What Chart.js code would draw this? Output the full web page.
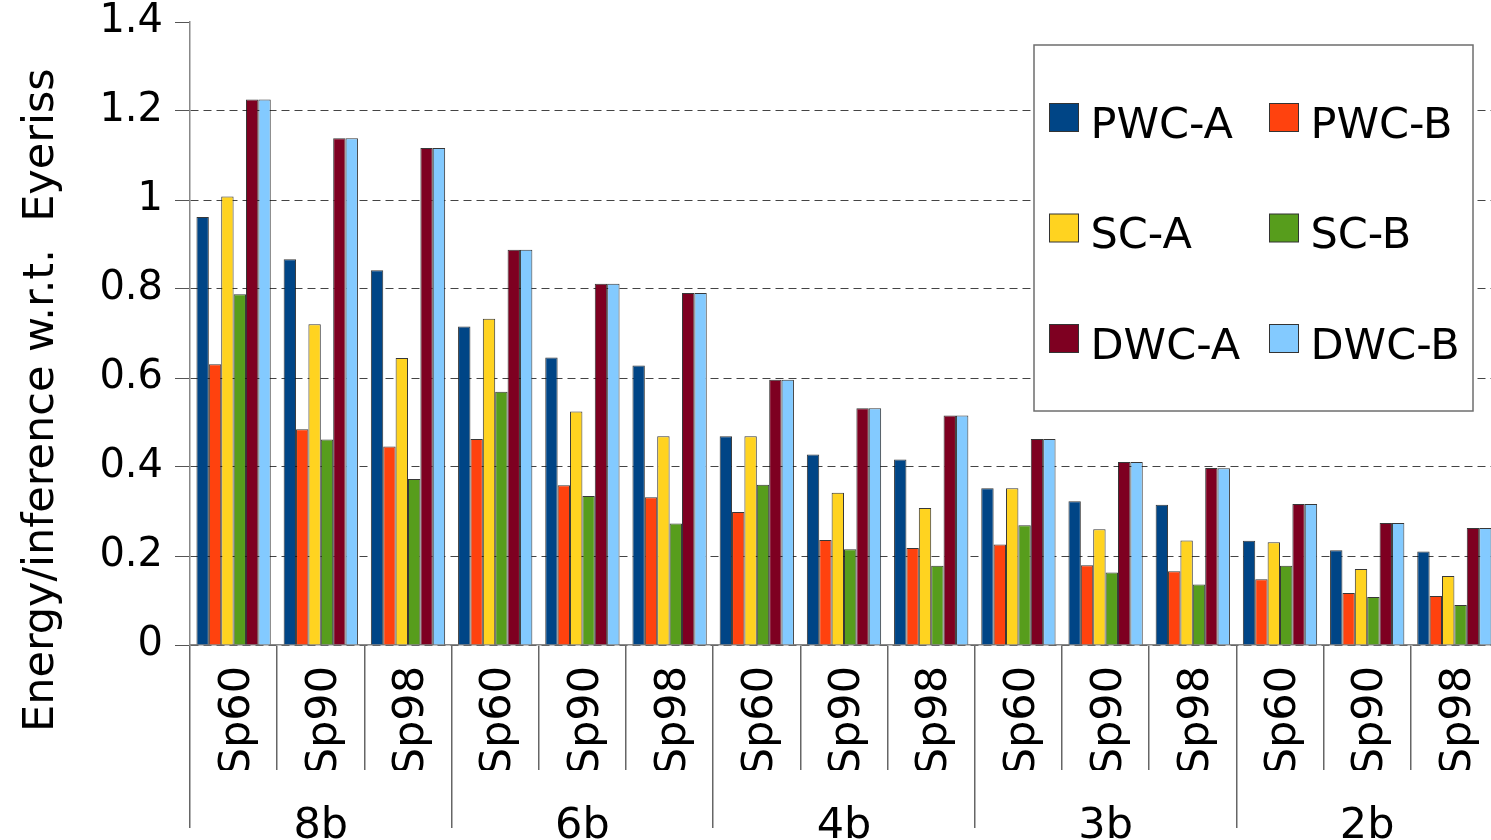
<!DOCTYPE html>
<html>
<head>
<meta charset="utf-8">
<script src="https://cdn.jsdelivr.net/npm/chart.js@4.4.1/dist/chart.umd.min.js"></script>
<style>
  html, body { margin: 0; padding: 0; background: #ffffff; overflow: hidden; }
  #wrap { position: relative; width: 1500px; height: 840px; }
</style>
</head>
<body>
<div id="wrap"><canvas id="c"></canvas></div>
<script>
// Sparsity settings, repeated inside every bit-width group
const categories = ['Sp60', 'Sp90', 'Sp98', 'Sp60', 'Sp90', 'Sp98', 'Sp60', 'Sp90', 'Sp98',
                    'Sp60', 'Sp90', 'Sp98', 'Sp60', 'Sp90', 'Sp98'];
const groups = ['8b', '6b', '4b', '3b', '2b'];
const yTicks = [0, 0.2, 0.4, 0.6, 0.8, 1, 1.2, 1.4];

const seriesNames = ['PWC-A', 'PWC-B', 'SC-A', 'SC-B', 'DWC-A', 'DWC-B'];
const pwcA = [0.962, 0.867, 0.842, 0.716, 0.646, 0.628, 0.469, 0.428, 0.417, 0.352, 0.323, 0.315, 0.234, 0.213, 0.210];
const pwcB = [0.631, 0.485, 0.446, 0.463, 0.359, 0.332, 0.299, 0.236, 0.218, 0.226, 0.179, 0.166, 0.148, 0.117, 0.110];
const scA  = [1.008, 0.721, 0.645, 0.733, 0.525, 0.469, 0.469, 0.342, 0.308, 0.352, 0.260, 0.235, 0.231, 0.171, 0.155];
const scB  = [0.788, 0.462, 0.373, 0.569, 0.335, 0.273, 0.360, 0.215, 0.178, 0.269, 0.163, 0.136, 0.178, 0.108, 0.090];
const dwcA = [1.226, 1.139, 1.117, 0.888, 0.812, 0.791, 0.596, 0.532, 0.516, 0.463, 0.411, 0.398, 0.317, 0.274, 0.263];
const dwcB = [1.226, 1.139, 1.117, 0.888, 0.812, 0.791, 0.596, 0.532, 0.516, 0.463, 0.411, 0.397, 0.317, 0.274, 0.263];

const colors = ['#004586', '#ff420e', '#ffd320', '#579d1c', '#7e0021', '#83caff'];
const seriesValues = [pwcA, pwcB, scA, scB, dwcA, dwcB];

const FONT = "'DejaVu Sans', 'Noto Sans', sans-serif";
const yTitle = 'Energy/inference w.r.t.  Eyeriss';

// Boxed two-column legend placed inside the plot area
const boxLegend = {
  id: 'boxLegend',
  afterDatasetsDraw(chart) {
    const ctx = chart.ctx;
    ctx.save();
    ctx.fillStyle = '#ffffff';
    ctx.fillRect(1034, 45, 439, 366);
    ctx.strokeStyle = '#6e6e6e';
    ctx.lineWidth = 1.5;
    ctx.strokeRect(1034, 45, 439, 366);
    ctx.font = '43px ' + FONT;
    ctx.textBaseline = 'alphabetic';
    ctx.textAlign = 'left';
    chart.data.datasets.forEach((ds, i) => {
      const col = i % 2, row = Math.floor(i / 2);
      const sx = 1049.5 + col * 220, sy = 103.5 + row * 110.5;
      ctx.fillStyle = ds.backgroundColor;
      ctx.fillRect(sx, sy, 29, 28);
      ctx.strokeStyle = '#333333';
      ctx.lineWidth = 1;
      ctx.strokeRect(sx, sy, 29, 28);
      ctx.fillStyle = '#000000';
      ctx.fillText(ds.label, sx + 41, sy + 34);
    });
    ctx.restore();
  }
};

// Vertical value-axis title
const sideTitle = {
  id: 'sideTitle',
  afterDraw(chart) {
    const ctx = chart.ctx;
    ctx.save();
    ctx.translate(53, 732);
    ctx.rotate(-Math.PI / 2);
    ctx.font = '43px ' + FONT;
    ctx.fillStyle = '#000000';
    ctx.textAlign = 'left';
    ctx.textBaseline = 'alphabetic';
    ctx.fillText(yTitle, 0, 0);
    ctx.restore();
  }
};

new Chart(document.getElementById('c'), {
  type: 'bar',
  data: {
    labels: categories,
    datasets: seriesNames.map((name, i) => ({
      label: name,
      data: seriesValues[i],
      backgroundColor: colors[i],
      borderColor: 'rgba(20,20,20,0.85)',
      borderWidth: 1,
      categoryPercentage: 0.852,
      barPercentage: 1.0
    }))
  },
  options: {
    responsive: true,
    maintainAspectRatio: false,
    animation: false,
    layout: { padding: { left: 0, right: 2, top: 22, bottom: 0 } },
    plugins: { legend: { display: false }, tooltip: { enabled: false } },
    scales: {
      y: {
        min: 0,
        max: 1.4,
        afterBuildTicks: (s) => { s.ticks = yTicks.map(v => ({ value: v })); },
        afterFit: (s) => { s.width = 190; s.paddingTop = 0; s.paddingBottom = 0; },
        ticks: {
          font: { family: FONT, size: 40 },
          color: '#000000',
          padding: 12,
          callback: (v) => String(Math.round(v * 10) / 10)
        },
        grid: {
          color: (c) => (c.tick && c.tick.value >= 1.4) ? 'rgba(0,0,0,0)' : '#444444',
          tickColor: '#555555',
          tickLength: 15,
          lineWidth: 1
        },
        border: { display: true, color: '#888888', width: 1.5, dash: [8, 5] }
      },
      x: {
        type: 'category',
        position: 'bottom',
        afterFit: (s) => { s.height = 125; s.paddingLeft = 0; s.paddingRight = 0; },
        ticks: {
          font: { family: FONT, size: 43 },
          color: '#000000',
          minRotation: 90,
          maxRotation: 90,
          autoSkip: false,
          padding: -104,
          labelOffset: 4
        },
        grid: {
          display: true,
          offset: true,
          drawOnChartArea: false,
          drawTicks: true,
          tickLength: 125,
          color: '#666666',
          lineWidth: 1.5
        },
        border: { display: true, color: '#888888', width: 1.5 }
      },
      x2: {
        type: 'category',
        position: 'bottom',
        labels: groups,
        afterFit: (s) => { s.height = 70; s.paddingLeft = 0; s.paddingRight = 0; },
        ticks: { font: { family: FONT, size: 43 }, color: '#000000', padding: -27, autoSkip: false, maxRotation: 0 },
        grid: {
          display: true,
          offset: true,
          drawOnChartArea: false,
          drawTicks: true,
          tickLength: 58,
          color: '#666666',
          lineWidth: 1.5
        },
        border: { display: false }
      }
    }
  },
  plugins: [boxLegend, sideTitle]
});
</script>
</body>
</html>
